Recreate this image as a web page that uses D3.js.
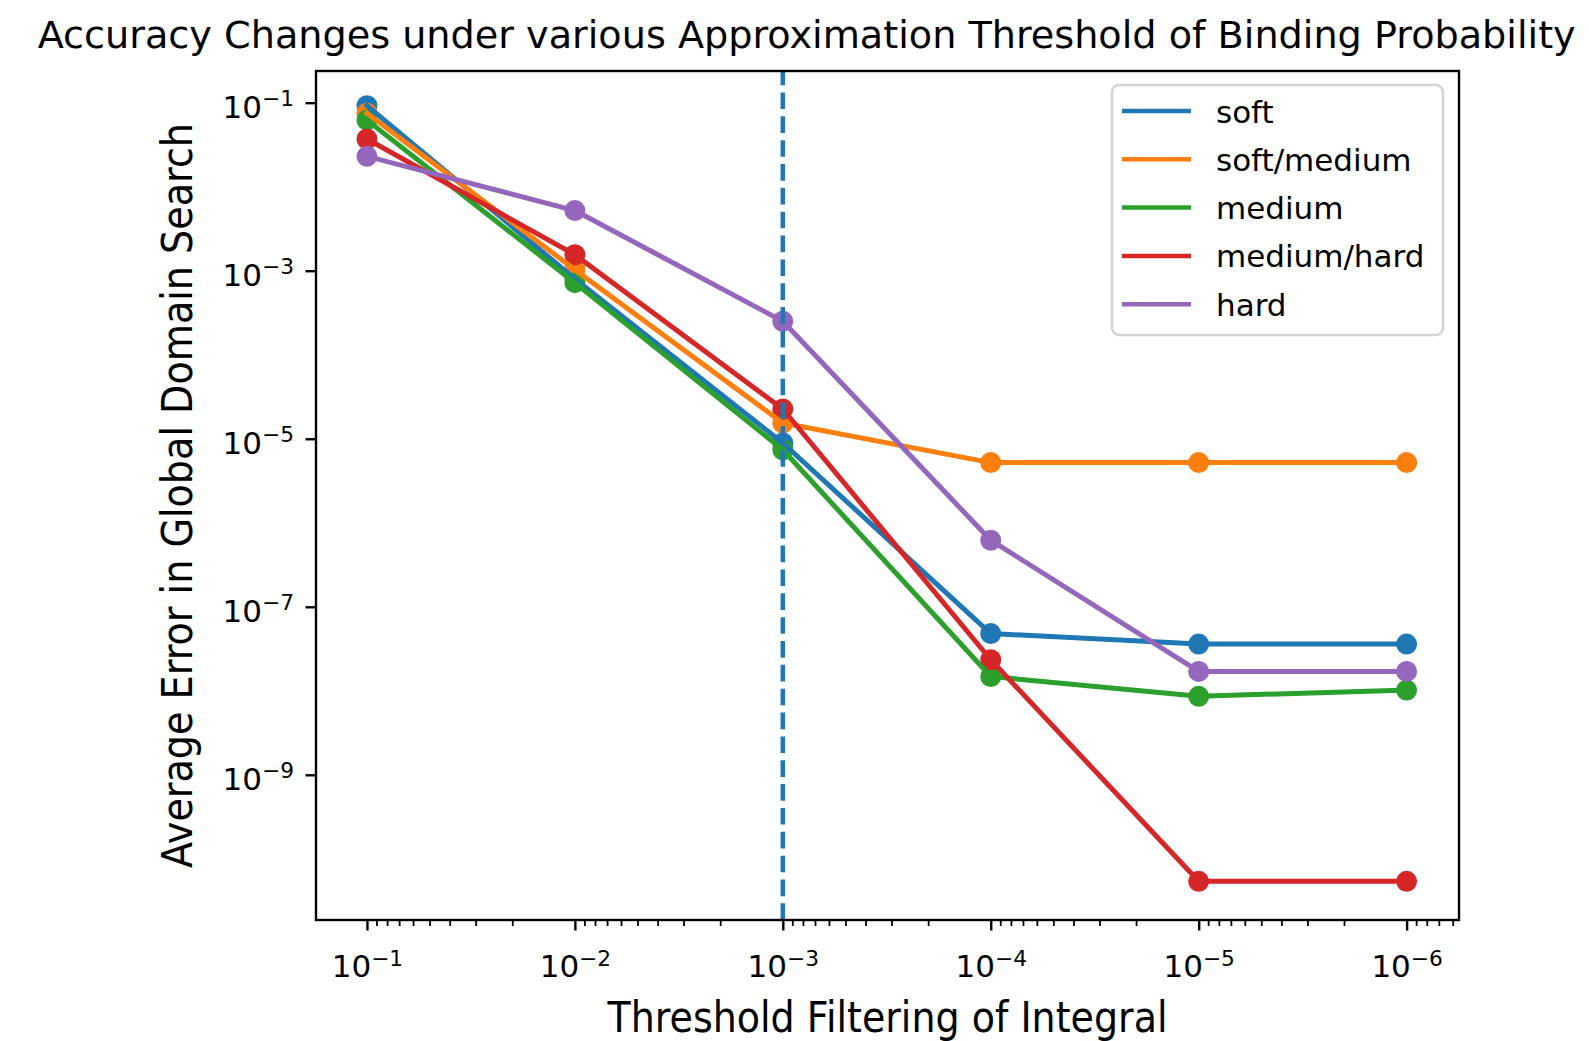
<!DOCTYPE html>
<html>
<head>
<meta charset="utf-8">
<script src="https://cdn.jsdelivr.net/npm/d3@7"></script>
<style>
  html, body { margin: 0; padding: 0; background: #ffffff; }
  svg { display: block; font-family: "DejaVu Sans", sans-serif; }
</style>
</head>
<body>
<svg id="chart" width="1589" height="1041"></svg>
<script>
// Approximation thresholds (x) and average error per difficulty level (y)
const thresholds = [1e-1, 1e-2, 1e-3, 1e-4, 1e-5, 1e-6];
const seriesNames = ["soft", "soft/medium", "medium", "medium/hard", "hard"];
const soft       = [0.092, 8.0e-4, 8.9e-6, 4.8e-8, 3.6e-8, 3.6e-8];
const softMedium = [0.075, 1.03e-3, 1.54e-5, 5.2e-6, 5.2e-6, 5.2e-6];
const medium     = [0.062, 7.2e-4, 7.4e-6, 1.48e-8, 8.6e-9, 1.02e-8];
const mediumHard = [0.037, 1.55e-3, 2.26e-5, 2.34e-8, 5.4e-11, 5.4e-11];
const hard       = [0.023, 5.2e-3, 2.5e-4, 6.2e-7, 1.7e-8, 1.7e-8];
const seriesValues = [soft, softMedium, medium, mediumHard, hard];
const colors = ["#1f77b4", "#ff7f0e", "#2ca02c", "#d62728", "#9467bd"];

// Tick exponents and the reference threshold marked by the dashed line
const xTickExponents = [-1, -2, -3, -4, -5, -6];
const yTickExponents = [-1, -3, -5, -7, -9];
const markedThreshold = 1e-3;

const titleText = "Accuracy Changes under various Approximation Threshold of Binding Probability";
const xLabelText = "Threshold Filtering of Integral";
const yLabelText = "Average Error in Global Domain Search";

// Layout
const plot = { left: 316, right: 1459, top: 71, bottom: 920 };
const svg = d3.select("#chart");

const x = d3.scaleLog()
  .domain([Math.pow(10, -0.755), Math.pow(10, -6.252)])
  .range([plot.left, plot.right]);
const y = d3.scaleLog()
  .domain([Math.pow(10, -10.728), Math.pow(10, -0.623)])
  .range([plot.bottom, plot.top]);

const tickFont = 31;
const majorLen = 10.5, minorLen = 6;
const lineWidth = 5, markerRadius = 10.5;

// Minor ticks on x: 2..9 x 10^e inside the domain
const [xLo, xHi] = [Math.min(...x.domain()), Math.max(...x.domain())];
const xMinor = [];
for (let e = -8; e <= 0; e++) {
  for (let k = 2; k <= 9; k++) {
    const v = k * Math.pow(10, e);
    if (v >= xLo && v <= xHi) xMinor.push(v);
  }
}

// Markers sit beneath the connecting lines
const markersG = svg.append("g");
seriesValues.forEach((vals, i) => {
  markersG.append("g").selectAll("circle")
    .data(thresholds.map((t, j) => [t, vals[j]]))
    .join("circle")
    .attr("cx", d => x(d[0]))
    .attr("cy", d => y(d[1]))
    .attr("r", markerRadius)
    .attr("fill", colors[i]);
});

const line = d3.line().x(d => x(d[0])).y(d => y(d[1]));
seriesValues.forEach((vals, i) => {
  svg.append("path")
    .datum(thresholds.map((t, j) => [t, vals[j]]))
    .attr("d", line)
    .attr("fill", "none")
    .attr("stroke", colors[i])
    .attr("stroke-width", lineWidth)
    .attr("stroke-linejoin", "round")
    .attr("stroke-linecap", "square");
});

// Vertical dashed reference line at the chosen threshold
svg.append("line")
  .attr("x1", x(markedThreshold)).attr("x2", x(markedThreshold))
  .attr("y1", plot.bottom).attr("y2", plot.top)
  .attr("stroke", colors[0])
  .attr("stroke-width", 4.5)
  .attr("stroke-dasharray", "16.65 7.2");

// Frame
svg.append("rect")
  .attr("x", plot.left).attr("y", plot.top)
  .attr("width", plot.right - plot.left).attr("height", plot.bottom - plot.top)
  .attr("fill", "none").attr("stroke", "#000").attr("stroke-width", 2.4);

// X axis: major and minor ticks
const xAxisMajor = svg.append("g")
  .attr("transform", `translate(0,${plot.bottom})`)
  .call(d3.axisBottom(x)
    .tickValues(xTickExponents.map(e => Math.pow(10, e)))
    .tickSize(majorLen).tickSizeOuter(0).tickFormat(() => ""));
xAxisMajor.select(".domain").remove();
xAxisMajor.selectAll(".tick line").attr("stroke", "#000").attr("stroke-width", 2.4);

const xAxisMinor = svg.append("g")
  .attr("transform", `translate(0,${plot.bottom})`)
  .call(d3.axisBottom(x).tickValues(xMinor).tickSize(minorLen).tickSizeOuter(0).tickFormat(() => ""));
xAxisMinor.select(".domain").remove();
xAxisMinor.selectAll(".tick line").attr("stroke", "#000").attr("stroke-width", 1.8);

// Power-of-ten labels with superscript exponents
function powerLabel(sel, exp) {
  sel.append("tspan").text("10");
  sel.append("tspan")
    .attr("dy", -11.5)
    .attr("font-size", tickFont * 0.7)
    .text("\u2212" + Math.abs(exp));
}

xAxisMajor.selectAll(".tick").each(function (d, i) {
  const t = d3.select(this).append("text")
    .attr("x", 0).attr("y", 57)
    .attr("fill", "#000")
    .attr("font-size", tickFont)
    .attr("text-anchor", "middle")
    .attr("font-family", "DejaVu Sans");
  powerLabel(t, xTickExponents[i]);
});

// Y axis: major ticks only
const yAxis = svg.append("g")
  .attr("transform", `translate(${plot.left},0)`)
  .call(d3.axisLeft(y)
    .tickValues(yTickExponents.map(e => Math.pow(10, e)))
    .tickSize(majorLen).tickSizeOuter(0).tickFormat(() => ""));
yAxis.select(".domain").remove();
yAxis.selectAll(".tick line").attr("stroke", "#000").attr("stroke-width", 2.4);
yAxis.selectAll(".tick").each(function (d, i) {
  const t = d3.select(this).append("text")
    .attr("x", -22).attr("y", 14.5)
    .attr("fill", "#000")
    .attr("font-size", tickFont)
    .attr("text-anchor", "end")
    .attr("font-family", "DejaVu Sans");
  powerLabel(t, yTickExponents[i]);
});

// Title and axis labels
svg.append("text")
  .attr("x", 806.7).attr("y", 48)
  .attr("text-anchor", "middle")
  .attr("font-size", 36.5)
  .attr("fill", "#000")
  .attr("textLength", 1538).attr("lengthAdjust", "spacingAndGlyphs")
  .text(titleText);

svg.append("text")
  .attr("x", (plot.left + plot.right) / 2).attr("y", 1032)
  .attr("text-anchor", "middle")
  .attr("font-size", 42)
  .attr("fill", "#000")
  .attr("textLength", 560).attr("lengthAdjust", "spacingAndGlyphs")
  .text(xLabelText);

svg.append("text")
  .attr("transform", `translate(192,${(plot.top + plot.bottom) / 2}) rotate(-90)`)
  .attr("text-anchor", "middle")
  .attr("font-size", 42)
  .attr("fill", "#000")
  .attr("textLength", 745).attr("lengthAdjust", "spacingAndGlyphs")
  .text(yLabelText);

// Legend
const legend = { x: 1112, y: 85, w: 331, h: 250, first: 26, step: 48.3 };
const lg = svg.append("g").attr("transform", `translate(${legend.x},${legend.y})`);
lg.append("rect")
  .attr("width", legend.w).attr("height", legend.h)
  .attr("rx", 7).attr("ry", 7)
  .attr("fill", "#ffffff").attr("fill-opacity", 0.8)
  .attr("stroke", "#d3d3d3").attr("stroke-width", 2.4);
seriesNames.forEach((name, i) => {
  const yy = legend.first + i * legend.step;
  lg.append("line")
    .attr("x1", 10).attr("x2", 79)
    .attr("y1", yy).attr("y2", yy)
    .attr("stroke", colors[i]).attr("stroke-width", 4.5);
  lg.append("text")
    .attr("x", 104).attr("y", yy + 11.5)
    .attr("font-size", tickFont)
    .attr("fill", "#000")
    .text(name);
});
</script>
</body>
</html>
